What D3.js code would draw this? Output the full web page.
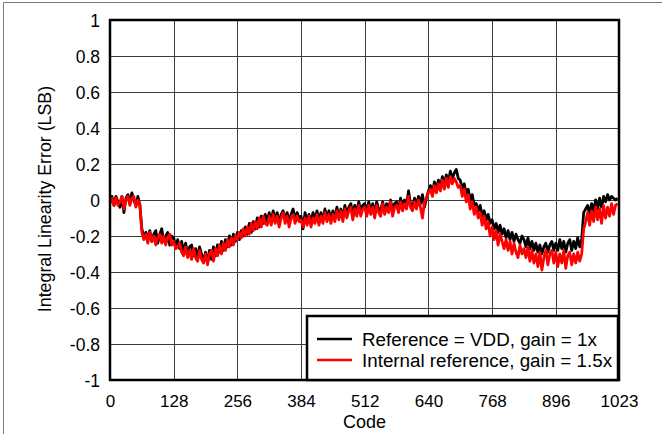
<!DOCTYPE html>
<html>
<head>
<meta charset="utf-8">
<script src="https://cdn.jsdelivr.net/npm/d3@7"></script>
<style>
  html, body { margin: 0; padding: 0; background: #fff; }
  svg { display: block; }
  text { font-family: "Liberation Sans", Arial, Helvetica, sans-serif; fill: #000; }
</style>
</head>
<body>
<svg id="chart" width="662" height="434"></svg>
<script>
// INL vs. output code, sampled every 4 codes (0 ... 1020)
const codeStep = 4;

const xTicks = [0, 128, 256, 384, 512, 640, 768, 896, 1023];
const yTicks = [-1, -0.8, -0.6, -0.4, -0.2, 0, 0.2, 0.4, 0.6, 0.8, 1];

const seriesNames = ["Reference = VDD, gain = 1x", "Internal reference, gain = 1.5x"];
const seriesColors = ["#000000", "#ff0000"];

// Reference = VDD, gain = 1x
const inlVdd = [
  -0.01, 0.02, -0.03, 0.02, -0.01, -0.04, 0.02, -0.07, 0.01, 0.03, -0.02, 0.04, 0.00, -0.03, 0.02, -0.03,
  -0.16, -0.21, -0.18, -0.22, -0.17, -0.23, -0.19, -0.17, -0.24, -0.19, -0.16, -0.23, -0.20, -0.18, -0.25, -0.20,
  -0.21, -0.26, -0.22, -0.27, -0.23, -0.29, -0.24, -0.30, -0.26, -0.25, -0.31, -0.27, -0.32, -0.26, -0.30, -0.34,
  -0.29, -0.35, -0.28, -0.33, -0.26, -0.31, -0.25, -0.29, -0.23, -0.28, -0.22, -0.26, -0.20, -0.25, -0.19, -0.23,
  -0.18, -0.22, -0.17, -0.20, -0.15, -0.19, -0.13, -0.18, -0.12, -0.16, -0.10, -0.15, -0.09, -0.13, -0.08, -0.12,
  -0.07, -0.12, -0.06, -0.11, -0.07, -0.13, -0.08, -0.06, -0.11, -0.07, -0.12, -0.08, -0.05, -0.11, -0.07, -0.10,
  -0.09, -0.16, -0.07, -0.12, -0.08, -0.13, -0.07, -0.11, -0.06, -0.12, -0.07, -0.11, -0.05, -0.10, -0.06, -0.11,
  -0.06, -0.10, -0.04, -0.09, -0.05, -0.10, -0.03, -0.08, -0.04, -0.02, -0.08, -0.03, -0.07, -0.01, -0.06, -0.03,
  -0.02, -0.07, -0.01, -0.06, -0.02, -0.08, -0.01, -0.05, -0.06, -0.01, -0.07, -0.02, -0.05, 0.00, -0.06, -0.02,
  -0.01, -0.05, 0.01, -0.04, 0.00, -0.03, 0.05, -0.02, -0.04, 0.01, -0.03, 0.02, -0.02, 0.03, -0.04, 0.01,
  0.05, 0.08, 0.04, 0.10, 0.06, 0.11, 0.07, 0.13, 0.09, 0.14, 0.10, 0.16, 0.12, 0.15, 0.17, 0.12,
  0.11, 0.06, 0.09, 0.03, 0.06, 0.00, 0.03, -0.03, -0.02, -0.06, -0.03, -0.09, -0.06, -0.11, -0.08, -0.13,
  -0.11, -0.16, -0.13, -0.18, -0.14, -0.19, -0.16, -0.21, -0.17, -0.22, -0.18, -0.23, -0.19, -0.22, -0.24, -0.20,
  -0.22, -0.26, -0.21, -0.27, -0.23, -0.28, -0.24, -0.29, -0.25, -0.30, -0.26, -0.24, -0.29, -0.25, -0.23, -0.28,
  -0.24, -0.28, -0.22, -0.27, -0.23, -0.29, -0.24, -0.22, -0.28, -0.23, -0.27, -0.21, -0.26, -0.22, -0.07, -0.05,
  -0.03, -0.08, -0.02, -0.06, 0.00, -0.05, 0.01, -0.04, 0.02, -0.01, 0.03, 0.00, 0.02, 0.01, 0.00, 0.01
];

// Internal reference, gain = 1.5x
const inlInternal = [
  -0.02, 0.01, -0.03, 0.01, -0.03, -0.01, 0.02, -0.05, 0.00, 0.02, -0.03, 0.01, 0.02, -0.04, 0.00, -0.02,
  -0.18, -0.22, -0.19, -0.24, -0.18, -0.23, -0.20, -0.25, -0.21, -0.19, -0.24, -0.20, -0.25, -0.21, -0.19, -0.25,
  -0.23, -0.27, -0.26, -0.24, -0.29, -0.31, -0.26, -0.32, -0.28, -0.33, -0.27, -0.32, -0.34, -0.28, -0.33, -0.35,
  -0.30, -0.36, -0.30, -0.28, -0.34, -0.27, -0.31, -0.25, -0.30, -0.24, -0.28, -0.22, -0.26, -0.21, -0.25, -0.20,
  -0.22, -0.18, -0.21, -0.16, -0.20, -0.15, -0.19, -0.13, -0.17, -0.12, -0.16, -0.10, -0.15, -0.09, -0.13, -0.14,
  -0.09, -0.14, -0.08, -0.13, -0.09, -0.15, -0.10, -0.07, -0.13, -0.09, -0.15, -0.10, -0.08, -0.13, -0.09, -0.12,
  -0.11, -0.15, -0.10, -0.14, -0.09, -0.15, -0.10, -0.13, -0.08, -0.14, -0.09, -0.13, -0.07, -0.12, -0.08, -0.13,
  -0.08, -0.12, -0.06, -0.11, -0.06, -0.12, -0.05, -0.10, -0.06, -0.04, -0.11, -0.05, -0.09, -0.03, -0.09, -0.05,
  -0.04, -0.09, -0.03, -0.08, -0.04, -0.10, -0.03, -0.07, -0.09, -0.02, -0.08, -0.04, -0.07, -0.01, -0.09, -0.04,
  -0.03, -0.07, -0.01, -0.06, -0.02, -0.05, 0.02, -0.04, -0.06, -0.01, -0.05, 0.00, -0.04, -0.10, -0.01, 0.01,
  0.04, 0.06, 0.02, 0.08, 0.04, 0.09, 0.05, 0.11, 0.06, 0.12, 0.07, 0.13, 0.09, 0.12, 0.10, 0.07,
  0.08, 0.02, 0.06, -0.01, 0.03, -0.05, -0.01, -0.08, -0.04, -0.10, -0.07, -0.14, -0.09, -0.16, -0.12, -0.20,
  -0.15, -0.22, -0.17, -0.25, -0.19, -0.23, -0.27, -0.22, -0.28, -0.23, -0.30, -0.24, -0.29, -0.32, -0.25, -0.30,
  -0.27, -0.32, -0.26, -0.34, -0.28, -0.35, -0.30, -0.37, -0.29, -0.39, -0.32, -0.28, -0.36, -0.30, -0.28, -0.35,
  -0.29, -0.37, -0.30, -0.35, -0.28, -0.38, -0.31, -0.29, -0.36, -0.30, -0.35, -0.29, -0.34, -0.30, -0.16, -0.12,
  -0.07, -0.14, -0.06, -0.12, -0.04, -0.11, -0.05, -0.13, -0.03, -0.10, -0.04, -0.09, -0.02, -0.08, -0.03, -0.02
];

const svg = d3.select("#chart");
const W = 662, H = 434;
const plot = { left: 110, right: 619, top: 20, bottom: 380 };

const x = d3.scaleLinear().domain([0, 1023]).range([plot.left, plot.right]);
const y = d3.scaleLinear().domain([-1, 1]).range([plot.bottom, plot.top]);

// page border (top and left edges)
svg.append("path")
  .attr("d", `M3.5,${H} V2.5 H${W}`)
  .attr("fill", "none")
  .attr("stroke", "#7a7a7a")
  .attr("stroke-width", 1);

// grid
const grid = svg.append("g").attr("stroke", "#3c3c3c").attr("stroke-width", 1);
grid.selectAll("line.vx").data(xTicks).join("line")
  .attr("x1", d => Math.round(x(d)) + 0.5).attr("x2", d => Math.round(x(d)) + 0.5)
  .attr("y1", plot.top).attr("y2", plot.bottom);
grid.selectAll("line.hy").data(yTicks).join("line")
  .attr("x1", plot.left).attr("x2", plot.right)
  .attr("y1", d => Math.round(y(d)) + 0.5).attr("y2", d => Math.round(y(d)) + 0.5);

// axes (labels only; the frame is drawn separately)
const xAxis = d3.axisBottom(x).tickValues(xTicks).tickSize(0).tickPadding(0).tickFormat(d => String(d));
const yAxis = d3.axisLeft(y).tickValues(yTicks).tickSize(0).tickPadding(0).tickFormat(d => String(d));

const gx = svg.append("g").attr("transform", `translate(0,${plot.bottom})`).call(xAxis);
gx.select(".domain").remove();
gx.selectAll("text").attr("y", 27).attr("dy", 0).style("font-size", "17px")
  .style("font-family", "'Liberation Sans', Arial, sans-serif");

const gy = svg.append("g").attr("transform", `translate(${plot.left},0)`).call(yAxis);
gy.select(".domain").remove();
gy.selectAll("text").attr("x", -10).attr("dy", "0.35em").style("font-size", "17.5px")
  .style("font-family", "'Liberation Sans', Arial, sans-serif");

// axis titles
svg.append("text")
  .attr("x", (plot.left + plot.right) / 2).attr("y", 428)
  .attr("text-anchor", "middle").style("font-size", "18px")
  .text("Code");
svg.append("text")
  .attr("transform", `translate(51,${(plot.top + plot.bottom) / 2 - 1}) rotate(-90)`)
  .attr("text-anchor", "middle").style("font-size", "17.8px")
  .text("Integral Linearity Error (LSB)");

// curves
const line = d3.line().x((d, i) => x(i * codeStep)).y(d => y(d));
[inlVdd, inlInternal].forEach((vals, k) => {
  svg.append("path")
    .datum(vals)
    .attr("d", line)
    .attr("fill", "none")
    .attr("stroke", seriesColors[k])
    .attr("stroke-width", 2.8)
    .attr("stroke-linejoin", "round");
});

// plot frame
svg.append("rect")
  .attr("x", plot.left).attr("y", plot.top)
  .attr("width", plot.right - plot.left).attr("height", plot.bottom - plot.top)
  .attr("fill", "none").attr("stroke", "#000").attr("stroke-width", 2.5);

// legend
const lg = { x: 307, y: 316, w: 311, h: 64 };
svg.append("rect")
  .attr("x", lg.x).attr("y", lg.y).attr("width", lg.w).attr("height", lg.h)
  .attr("fill", "#fff").attr("stroke", "#000").attr("stroke-width", 2.5);
seriesNames.forEach((name, k) => {
  const cy = lg.y + 23 + k * 21;
  svg.append("line")
    .attr("x1", lg.x + 10).attr("x2", lg.x + 45)
    .attr("y1", cy).attr("y2", cy)
    .attr("stroke", seriesColors[k]).attr("stroke-width", 2.5);
  svg.append("text")
    .attr("x", lg.x + 55).attr("y", cy).attr("dy", "0.35em")
    .style("font-size", "18.8px")
    .text(name);
});
</script>
</body>
</html>
